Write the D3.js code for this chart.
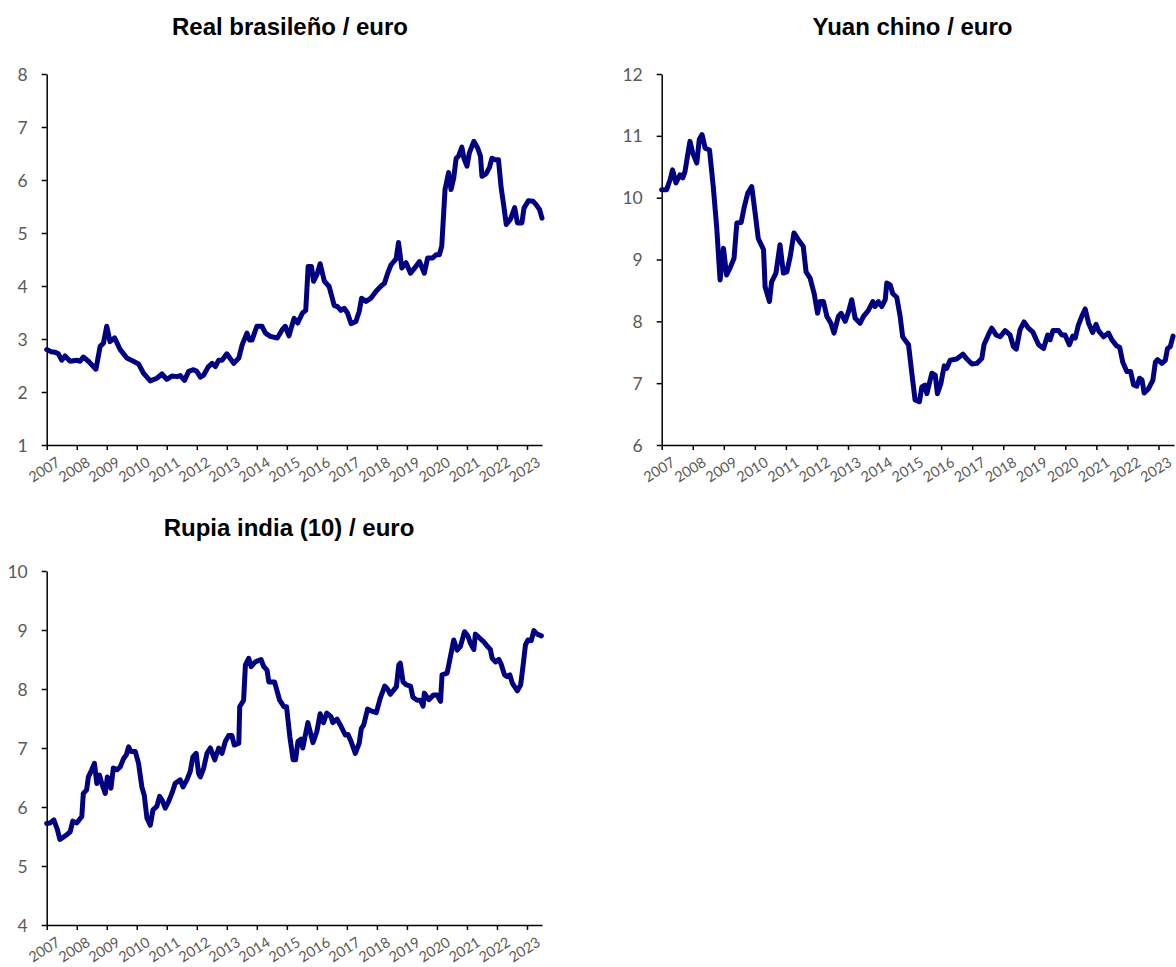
<!DOCTYPE html>
<html>
<head>
<meta charset="utf-8">
<script src="https://cdn.jsdelivr.net/npm/d3@7"></script>
<style>
  html, body { margin: 0; padding: 0; background: #ffffff; }
  svg { display: block; }
  .title { font-family: "Liberation Sans", Arial, sans-serif; font-weight: bold; font-size: 24px; fill: #000; }
  .ylab { font-family: Lato, "Open Sans", sans-serif; font-size: 17.5px; fill: #595959; }
  .xlab { font-family: Lato, "Open Sans", sans-serif; font-size: 14.5px; fill: #595959; }
</style>
</head>
<body>
<svg id="chart" width="1176" height="967"></svg>
<script>
// ---------------- DATA ----------------
const yearTicks = [2007, 2008, 2009, 2010, 2011, 2012, 2013, 2014, 2015, 2016, 2017, 2018, 2019, 2020, 2021, 2022, 2023];

const realTitle = "Real brasileño / euro";
const realTicks = [1, 2, 3, 4, 5, 6, 7, 8];
const realYears = [2007.0, 2007.15, 2007.28, 2007.39, 2007.5, 2007.61, 2007.78, 2008.0, 2008.11, 2008.22, 2008.39, 2008.64, 2008.78, 2008.89, 2009.0, 2009.11, 2009.26, 2009.45, 2009.67, 2009.89, 2010.06, 2010.23, 2010.45, 2010.67, 2010.84, 2011.0, 2011.17, 2011.34, 2011.45, 2011.59, 2011.73, 2011.89, 2012.0, 2012.12, 2012.23, 2012.39, 2012.51, 2012.62, 2012.73, 2012.84, 2013.0, 2013.23, 2013.4, 2013.51, 2013.67, 2013.76, 2013.84, 2014.0, 2014.17, 2014.29, 2014.45, 2014.68, 2014.84, 2014.95, 2015.07, 2015.24, 2015.36, 2015.52, 2015.63, 2015.71, 2015.82, 2015.89, 2016.0, 2016.11, 2016.25, 2016.41, 2016.58, 2016.69, 2016.8, 2016.91, 2017.02, 2017.14, 2017.3, 2017.41, 2017.49, 2017.64, 2017.8, 2017.97, 2018.14, 2018.25, 2018.36, 2018.47, 2018.64, 2018.72, 2018.83, 2018.97, 2019.12, 2019.3, 2019.42, 2019.58, 2019.69, 2019.86, 2019.97, 2020.08, 2020.16, 2020.27, 2020.39, 2020.47, 2020.56, 2020.64, 2020.72, 2020.83, 2020.9, 2021.0, 2021.08, 2021.23, 2021.36, 2021.45, 2021.5, 2021.64, 2021.75, 2021.83, 2021.94, 2022.05, 2022.14, 2022.23, 2022.31, 2022.45, 2022.59, 2022.68, 2022.83, 2022.9, 2023.05, 2023.2, 2023.31, 2023.42, 2023.5];
const realValues = [2.80, 2.76, 2.75, 2.72, 2.60, 2.68, 2.58, 2.60, 2.58, 2.66, 2.58, 2.43, 2.86, 2.92, 3.24, 2.95, 3.02, 2.80, 2.64, 2.58, 2.53, 2.35, 2.21, 2.26, 2.34, 2.24, 2.30, 2.29, 2.31, 2.22, 2.39, 2.42, 2.39, 2.28, 2.32, 2.48, 2.54, 2.48, 2.60, 2.60, 2.72, 2.54, 2.64, 2.89, 3.11, 2.98, 2.98, 3.24, 3.24, 3.11, 3.05, 3.02, 3.17, 3.24, 3.06, 3.39, 3.30, 3.49, 3.54, 4.37, 4.37, 4.09, 4.21, 4.42, 4.09, 3.99, 3.63, 3.61, 3.54, 3.58, 3.49, 3.29, 3.33, 3.52, 3.77, 3.71, 3.77, 3.90, 4.00, 4.05, 4.24, 4.40, 4.51, 4.82, 4.34, 4.44, 4.24, 4.37, 4.46, 4.24, 4.53, 4.53, 4.59, 4.59, 4.75, 5.82, 6.14, 5.82, 6.04, 6.41, 6.45, 6.62, 6.41, 6.26, 6.51, 6.73, 6.60, 6.45, 6.07, 6.12, 6.24, 6.41, 6.38, 6.38, 5.85, 5.50, 5.16, 5.26, 5.48, 5.19, 5.19, 5.47, 5.61, 5.60, 5.53, 5.44, 5.28];

const yuanTitle = "Yuan chino / euro";
const yuanTicks = [6, 7, 8, 9, 10, 11, 12];
const yuanYears = [2007.0, 2007.16, 2007.27, 2007.35, 2007.46, 2007.59, 2007.68, 2007.75, 2007.83, 2007.91, 2008.0, 2008.13, 2008.21, 2008.3, 2008.4, 2008.54, 2008.66, 2008.77, 2008.88, 2008.99, 2009.09, 2009.2, 2009.33, 2009.42, 2009.56, 2009.65, 2009.77, 2009.9, 2010.01, 2010.11, 2010.28, 2010.33, 2010.47, 2010.54, 2010.68, 2010.81, 2010.92, 2011.03, 2011.14, 2011.26, 2011.4, 2011.56, 2011.65, 2011.78, 2011.91, 2012.02, 2012.1, 2012.21, 2012.32, 2012.45, 2012.55, 2012.69, 2012.78, 2012.91, 2013.02, 2013.12, 2013.23, 2013.39, 2013.5, 2013.66, 2013.8, 2013.87, 2013.98, 2014.09, 2014.2, 2014.25, 2014.36, 2014.44, 2014.57, 2014.68, 2014.76, 2014.95, 2015.05, 2015.16, 2015.3, 2015.38, 2015.48, 2015.54, 2015.7, 2015.81, 2015.88, 2015.99, 2016.1, 2016.18, 2016.29, 2016.5, 2016.7, 2016.83, 2016.99, 2017.15, 2017.31, 2017.38, 2017.52, 2017.63, 2017.77, 2017.9, 2018.06, 2018.22, 2018.33, 2018.42, 2018.54, 2018.67, 2018.81, 2018.95, 2019.14, 2019.3, 2019.43, 2019.51, 2019.6, 2019.78, 2019.89, 2019.99, 2020.13, 2020.24, 2020.32, 2020.42, 2020.53, 2020.64, 2020.75, 2020.88, 2020.99, 2021.07, 2021.23, 2021.39, 2021.5, 2021.66, 2021.75, 2021.85, 2021.98, 2022.1, 2022.2, 2022.3, 2022.39, 2022.47, 2022.54, 2022.68, 2022.82, 2022.9, 2022.97, 2023.11, 2023.22, 2023.29, 2023.38, 2023.47];
const yuanValues = [10.13, 10.13, 10.29, 10.45, 10.24, 10.37, 10.32, 10.42, 10.67, 10.91, 10.72, 10.56, 10.94, 11.02, 10.80, 10.77, 10.18, 9.53, 8.67, 9.18, 8.75, 8.86, 9.02, 9.59, 9.60, 9.83, 10.07, 10.18, 9.75, 9.34, 9.16, 8.56, 8.32, 8.64, 8.78, 9.24, 8.78, 8.80, 9.05, 9.43, 9.32, 9.21, 8.80, 8.70, 8.45, 8.13, 8.32, 8.32, 8.08, 7.97, 7.81, 8.08, 8.13, 8.00, 8.16, 8.35, 8.05, 7.97, 8.08, 8.18, 8.32, 8.24, 8.32, 8.24, 8.35, 8.62, 8.59, 8.45, 8.39, 8.08, 7.75, 7.62, 7.19, 6.73, 6.70, 6.94, 6.97, 6.83, 7.16, 7.13, 6.83, 6.99, 7.28, 7.24, 7.37, 7.39, 7.47, 7.39, 7.31, 7.32, 7.40, 7.62, 7.78, 7.89, 7.78, 7.75, 7.85, 7.78, 7.59, 7.55, 7.86, 7.99, 7.89, 7.83, 7.62, 7.56, 7.78, 7.70, 7.85, 7.85, 7.78, 7.78, 7.62, 7.76, 7.73, 7.94, 8.08, 8.20, 7.97, 7.82, 7.95, 7.85, 7.75, 7.81, 7.70, 7.60, 7.58, 7.34, 7.19, 7.19, 6.97, 6.95, 7.08, 7.05, 6.84, 6.91, 7.05, 7.34, 7.38, 7.32, 7.37, 7.56, 7.59, 7.76];

const rupiaTitle = "Rupia india (10) / euro";
const rupiaTicks = [4, 5, 6, 7, 8, 9, 10];
const rupiaYears = [2007.0, 2007.11, 2007.24, 2007.36, 2007.44, 2007.56, 2007.67, 2007.78, 2007.87, 2008.0, 2008.17, 2008.22, 2008.33, 2008.39, 2008.5, 2008.59, 2008.67, 2008.76, 2008.84, 2008.95, 2009.02, 2009.14, 2009.22, 2009.34, 2009.45, 2009.56, 2009.65, 2009.73, 2009.8, 2009.95, 2010.06, 2010.17, 2010.25, 2010.34, 2010.45, 2010.54, 2010.67, 2010.76, 2010.84, 2010.95, 2011.06, 2011.17, 2011.28, 2011.45, 2011.54, 2011.67, 2011.78, 2011.87, 2011.98, 2012.06, 2012.12, 2012.23, 2012.34, 2012.45, 2012.6, 2012.73, 2012.84, 2012.95, 2013.06, 2013.17, 2013.25, 2013.4, 2013.43, 2013.56, 2013.62, 2013.73, 2013.81, 2013.95, 2014.14, 2014.23, 2014.34, 2014.4, 2014.59, 2014.76, 2014.9, 2014.99, 2015.1, 2015.21, 2015.29, 2015.37, 2015.47, 2015.53, 2015.7, 2015.87, 2016.0, 2016.11, 2016.22, 2016.33, 2016.47, 2016.53, 2016.67, 2016.78, 2016.95, 2017.04, 2017.14, 2017.28, 2017.41, 2017.48, 2017.56, 2017.69, 2017.8, 2017.98, 2018.11, 2018.26, 2018.34, 2018.45, 2018.65, 2018.73, 2018.78, 2018.87, 2018.98, 2019.12, 2019.2, 2019.34, 2019.45, 2019.54, 2019.58, 2019.73, 2019.89, 2020.0, 2020.12, 2020.17, 2020.34, 2020.45, 2020.56, 2020.67, 2020.78, 2020.92, 2021.03, 2021.12, 2021.23, 2021.28, 2021.43, 2021.56, 2021.67, 2021.78, 2021.84, 2021.95, 2022.06, 2022.14, 2022.25, 2022.34, 2022.43, 2022.51, 2022.68, 2022.79, 2022.88, 2022.95, 2023.03, 2023.14, 2023.23, 2023.34, 2023.48];
const rupiaValues = [5.72, 5.73, 5.78, 5.61, 5.45, 5.49, 5.53, 5.58, 5.76, 5.73, 5.84, 6.23, 6.29, 6.51, 6.63, 6.74, 6.40, 6.54, 6.39, 6.23, 6.51, 6.32, 6.66, 6.63, 6.68, 6.82, 6.88, 7.02, 6.94, 6.94, 6.74, 6.34, 6.20, 5.81, 5.69, 5.95, 6.01, 6.18, 6.12, 5.98, 6.09, 6.23, 6.40, 6.46, 6.34, 6.46, 6.60, 6.85, 6.91, 6.57, 6.51, 6.66, 6.91, 7.00, 6.80, 7.00, 6.91, 7.11, 7.21, 7.21, 7.05, 7.08, 7.70, 7.81, 8.41, 8.52, 8.38, 8.46, 8.50, 8.38, 8.32, 8.12, 8.12, 7.81, 7.70, 7.70, 7.19, 6.80, 6.80, 7.11, 7.15, 7.00, 7.43, 7.09, 7.28, 7.58, 7.43, 7.59, 7.53, 7.43, 7.49, 7.39, 7.22, 7.23, 7.11, 6.91, 7.08, 7.33, 7.39, 7.66, 7.63, 7.60, 7.84, 8.05, 8.01, 7.91, 8.04, 8.41, 8.44, 8.12, 8.07, 8.05, 7.86, 7.81, 7.81, 7.71, 7.93, 7.82, 7.90, 7.90, 7.79, 8.24, 8.27, 8.55, 8.83, 8.66, 8.72, 8.97, 8.90, 8.77, 8.67, 8.93, 8.86, 8.80, 8.73, 8.67, 8.52, 8.46, 8.50, 8.42, 8.24, 8.21, 8.24, 8.10, 7.97, 8.07, 8.44, 8.75, 8.83, 8.82, 8.99, 8.93, 8.90];

// ---------------- LAYOUT ----------------
const svg = d3.select("#chart");
svg.append("rect").attr("width", 1176).attr("height", 967).attr("fill", "#fff");

const panels = [
  { title: realTitle, ticks: realTicks, years: realYears, values: realValues,
    x0: 46.7, x1: 542, yTop: 74, yBot: 445, titleX: 290, titleY: 35 },
  { title: yuanTitle, ticks: yuanTicks, years: yuanYears, values: yuanValues,
    x0: 661.7, x1: 1174, yTop: 74, yBot: 445, titleX: 912.5, titleY: 35 },
  { title: rupiaTitle, ticks: rupiaTicks, years: rupiaYears, values: rupiaValues,
    x0: 46.7, x1: 542, yTop: 571, yBot: 925, titleX: 289, titleY: 536 }
];

panels.forEach(p => {
  const g = svg.append("g");
  const x = d3.scaleLinear().domain([2007, 2023.5]).range([p.x0, p.x1]);
  const y = d3.scaleLinear().domain([p.ticks[0], p.ticks[p.ticks.length - 1]]).range([p.yBot, p.yTop]);

  g.append("text").attr("class", "title")
    .attr("x", p.titleX).attr("y", p.titleY)
    .attr("text-anchor", "middle").text(p.title);

  // Y axis
  const ya = g.append("g").attr("transform", `translate(${p.x0},0)`)
    .call(d3.axisLeft(y).tickValues(p.ticks).tickSize(5).tickSizeOuter(0).tickPadding(14).tickFormat(d3.format("d")));
  ya.select(".domain").attr("stroke", "#000").attr("stroke-width", 1.5);
  ya.selectAll(".tick line").attr("stroke", "#000").attr("stroke-width", 1.5);
  ya.selectAll(".tick text").attr("class", "ylab").attr("font-family", null).attr("font-size", null).attr("fill", null).attr("dy", "0.35em");

  // X axis
  const xa = g.append("g").attr("transform", `translate(0,${p.yBot})`)
    .call(d3.axisBottom(x).tickValues(yearTicks).tickSize(5).tickSizeOuter(0).tickFormat(d3.format("d")));
  xa.select(".domain").attr("stroke", "#000").attr("stroke-width", 1.5);
  xa.selectAll(".tick line").attr("stroke", "#000").attr("stroke-width", 1.5);
  xa.selectAll(".tick text").attr("class", "xlab").attr("font-family", null).attr("font-size", null).attr("fill", null)
    .attr("text-anchor", "end").attr("y", 0).attr("dy", null)
    .attr("transform", "translate(14,20) rotate(-32)");

  // Line
  const pts = p.years.map((yr, i) => [yr, p.values[i]]);
  const line = d3.line().x(d => x(d[0])).y(d => y(d[1])).curve(d3.curveLinear);
  g.append("path").datum(pts)
    .attr("d", line).attr("fill", "none")
    .attr("stroke", "#000080").attr("stroke-width", 5)
    .attr("stroke-linejoin", "round").attr("stroke-linecap", "round");
});
</script>
</body>
</html>
